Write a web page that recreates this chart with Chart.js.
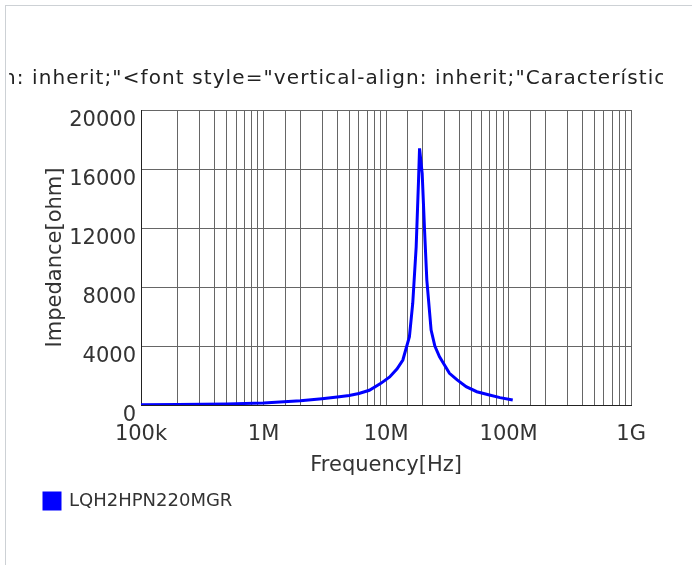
<!DOCTYPE html>
<html>
<head>
<meta charset="utf-8">
<script src="https://cdn.jsdelivr.net/npm/chart.js@4.4.1/dist/chart.umd.min.js"></script>
<style>
  body { margin: 0; background: #fff; }
  #frame { position: absolute; left: 5px; top: 5px; width: 720px; height: 600px; border: 1px solid #cdd1d5; }
  #wrap { position: absolute; left: 0; top: 0; width: 657px; height: 559px; }
</style>
</head>
<body>
<div id="frame"><div id="wrap"><canvas id="myChart" width="657" height="559"></canvas></div></div>
<script>
// impedance curve
let titleText = '<font style="vertical-align: inherit;"<font style="vertical-align: inherit;"Características de impedancia</font>';
let seriesName = 'LQH2HPN220MGR';
let freqMHz = [0.1, 0.2, 0.5, 1, 2, 3, 4, 5, 6, 7.3, 9, 10.7, 12.3, 13.7, 15.5, 16.5, 17.6, 18.4, 18.75,
               19.7, 20.6, 21.5, 23.3, 25, 27.3, 32.9, 38, 45, 55, 69.7, 85, 108];
let impedance = [14, 28, 70, 140, 285, 430, 540, 640, 780, 1000, 1450, 1900, 2450, 3050, 4630, 6900, 10730, 15250, 17400,
                 15700, 11860, 8470, 5080, 4000, 3270, 2150, 1700, 1240, 900, 680, 500, 340];
let xTickLabels = {5: '100k', 6: '1M', 7: '10M', 8: '100M', 9: '1G'};
let yTicks = [0, 4000, 8000, 12000, 16000, 20000];

let points = freqMHz.map((f, i) => ({x: f * 1e6, y: impedance[i]}));

// the title is wider than the chart and gets cut at both sides, so draw it by hand (no squeezing)
let cutTitle = {
  id: 'cutTitle',
  afterDraw: function(chart) {
    let c = chart.ctx;
    c.save();
    c.beginPath();
    c.rect(3, 0, chart.width - 3, 110);
    c.clip();
    c.font = '20px "DejaVu Sans"';
    c.letterSpacing = '1.1px';
    c.fillStyle = '#222';
    c.textAlign = 'left';
    c.textBaseline = 'middle';
    let hidden = titleText.slice(0, titleText.indexOf('inherit;"<font style="vertical-align: inherit;"Car'));
    c.fillText(titleText, 26 - c.measureText(hidden).width, 73);
    c.restore();
  }
};

function makeChart() {
  var ctx = document.getElementById('myChart');
  return new Chart(ctx, {
    type: 'line',
    data: {
      datasets: [{
        label: seriesName,
        data: points,
        borderColor: '#0000ff',
        backgroundColor: '#0000ff',
        borderWidth: 3,
        pointRadius: 0,
        tension: 0
      }]
    },
    options: {
      responsive: false,
      animation: false,
      layout: { padding: { left: 29, right: 31, top: 104, bottom: 45 } },
      plugins: {
        title: { display: false },
        legend: {
          position: 'bottom',
          align: 'start',
          labels: {
            boxWidth: 16,
            boxHeight: 16,
            padding: 9,
            color: '#333',
            font: { family: 'DejaVu Sans', size: 18 }
          }
        },
        tooltip: { enabled: false }
      },
      scales: {
        x: {
          type: 'logarithmic',
          min: 1e5,
          max: 1e9,
          afterFit: function(scale) { scale.height = 78; },
          grid: { color: '#666', drawTicks: false },
          border: { color: '#222', width: 1 },
          ticks: {
            autoSkip: false,
            maxRotation: 0,
            padding: 17,
            color: '#333',
            font: { family: 'DejaVu Sans', size: 21 },
            callback: function(v) {
              let e = Math.log10(v);
              if (Math.abs(e - Math.round(e)) < 1e-6) return xTickLabels[Math.round(e)];
              return '';
            }
          },
          title: {
            display: true,
            text: 'Frequency[Hz]',
            color: '#333',
            font: { family: 'DejaVu Sans', size: 21 },
            padding: { top: 4, bottom: 5 }
          }
        },
        y: {
          min: 0,
          max: 20000,
          afterFit: function(scale) { scale.width = 106; },
          afterBuildTicks: function(scale) { scale.ticks = yTicks.map(v => ({value: v})); },
          grid: { color: '#666', drawTicks: false },
          border: { color: '#222', width: 1 },
          ticks: {
            padding: 5,
            labelOffset: 11,
            color: '#333',
            font: { family: 'DejaVu Sans', size: 21 },
            callback: function(v) { return String(v); }
          },
          title: {
            display: true,
            text: 'Impedance[ohm]',
            color: '#333',
            font: { family: 'DejaVu Sans', size: 21 },
            padding: { top: 8, bottom: 0 }
          }
        }
      }
    },
    plugins: [cutTitle]
  });
}
makeChart();
</script>
</body>
</html>
